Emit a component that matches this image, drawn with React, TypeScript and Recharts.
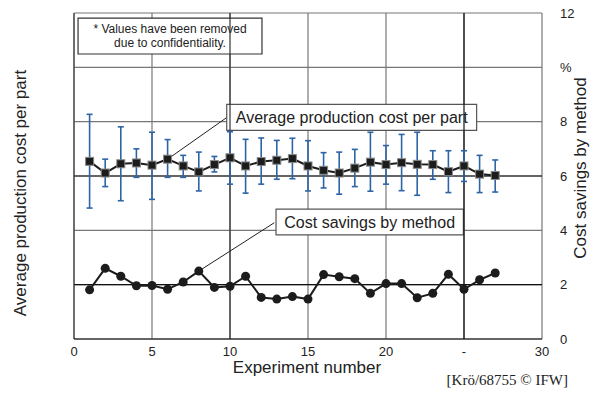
import React from 'react';
import {
  ComposedChart, Line, XAxis, YAxis, CartesianGrid, ErrorBar,
  ReferenceLine, ReferenceArea,
} from 'recharts';

const experiments = [1, 2, 3, 4, 5, 6, 7, 8, 9, 10, 11, 12, 13, 14, 15, 16, 17, 18, 19, 20, 21, 22, 23, 24, 25, 26, 27];
const avgCost = [6.54, 6.11, 6.45, 6.48, 6.40, 6.62, 6.37, 6.15, 6.42, 6.67, 6.37, 6.53, 6.58, 6.64, 6.37, 6.21, 6.11, 6.29, 6.51, 6.42, 6.49, 6.43, 6.42, 6.16, 6.37, 6.07, 6.02];
const avgHigh = [8.27, 6.62, 7.81, 7.00, 7.61, 7.34, 6.76, 6.88, 6.72, 7.63, 7.35, 7.40, 7.31, 7.39, 7.30, 6.86, 6.88, 6.98, 7.61, 7.12, 7.53, 7.61, 6.93, 6.93, 6.93, 6.76, 6.59];
const avgLow = [4.82, 5.61, 5.09, 5.95, 5.14, 5.95, 5.95, 5.45, 6.15, 5.70, 5.37, 5.70, 5.88, 5.90, 5.45, 5.56, 5.33, 5.61, 5.44, 5.70, 5.46, 5.29, 5.88, 5.39, 5.80, 5.39, 5.41];
const savings = [1.81, 2.60, 2.31, 1.96, 1.97, 1.83, 2.10, 2.50, 1.90, 1.94, 2.31, 1.53, 1.47, 1.56, 1.47, 2.37, 2.29, 2.22, 1.68, 2.04, 2.04, 1.52, 1.68, 2.38, 1.83, 2.18, 2.43];

const xTicks = [0, 5, 10, 15, 20, 25, 30];
const yTicks = [0, 2, 4, 6, 8, 10, 12];

const data = experiments.map((n, i) => ({
  n,
  avg: avgCost[i],
  err: [avgCost[i] - avgLow[i], avgHigh[i] - avgCost[i]],
  sav: savings[i],
}));

const font = 'Liberation Sans, Arial, sans-serif';
const ink = '#222';

const SquareDot = (props: any) => {
  const { cx, cy, index } = props;
  return <rect key={`sq-${index}`} x={cx - 4} y={cy - 4} width={8} height={8} fill="#1c1c1c" stroke="#888" strokeWidth={1} />;
};

const RoundDot = (props: any) => {
  const { cx, cy, index } = props;
  return <circle key={`rd-${index}`} cx={cx} cy={cy} r={4.5} fill="#1c1c1c" />;
};

const boxLabel = (lines: string[], size: number) => (props: any) => {
  const { x, y, width, height } = props.viewBox;
  const cx = x + width / 2;
  const lh = size * 1.15;
  const y0 = y + height / 2 - ((lines.length - 1) * lh) / 2;
  return (
    <text x={cx} y={y0} textAnchor="middle" dominantBaseline="central" fontSize={size} fill={ink} fontFamily={font}>
      {lines.map((l, i) => (
        <tspan key={i} x={cx} y={y0 + i * lh}>{l}</tspan>
      ))}
    </text>
  );
};

export default function App() {
  return (
    <div style={{ position: 'absolute', left: 0, top: 0, width: 590, height: 394, background: '#fff' }}>
      <ComposedChart width={590} height={394} data={data} margin={{ top: 13, right: 0, bottom: 0, left: 0 }}>
        <CartesianGrid stroke="#777" strokeWidth={1.2} yAxisId="right" />
        <XAxis
          dataKey="n" type="number" domain={[0, 30]} ticks={xTicks} height={55}
          axisLine={false} tickLine={false} tickMargin={2}
          tick={{ fontSize: 13, fill: ink, fontFamily: font }}
          tickFormatter={(v: number) => (v === 25 ? '-' : String(v))}
        />
        <YAxis
          yAxisId="left" orientation="left" width={74} domain={[0, 12]} ticks={[10]}
          axisLine={false} tickLine={false} tickMargin={18}
          tick={{ fontSize: 12, fill: ink, fontFamily: font }}
          tickFormatter={() => '€*'}
        />
        <YAxis
          yAxisId="right" orientation="right" width={48} domain={[0, 12]} ticks={yTicks}
          axisLine={false} tickLine={false} tickMargin={12}
          tick={{ fontSize: 13, fill: ink, fontFamily: font, textAnchor: 'start' }}
          tickFormatter={(v: number) => (v === 10 ? '%' : String(v))}
        />
        <ReferenceLine yAxisId="right" y={2} stroke="#111" strokeWidth={1.2} />
        <ReferenceLine yAxisId="right" y={6} stroke="#111" strokeWidth={1.2} />
        <ReferenceLine yAxisId="right" x={10} stroke="#333" strokeWidth={1.2} />
        <ReferenceLine yAxisId="right" x={25} stroke="#111" strokeWidth={1.2} />
        <ReferenceLine yAxisId="right" x={0} stroke="#444" strokeWidth={1.2} />
        <ReferenceLine yAxisId="right" y={0} stroke="#111" strokeWidth={1.2} />

        <Line
          yAxisId="right" dataKey="avg" stroke="#1c1c1c" strokeWidth={2}
          dot={SquareDot} isAnimationActive={false}
        >
          <ErrorBar dataKey="err" direction="y" width={3} stroke="#2d64a6" strokeWidth={1.6} />
        </Line>
        <Line
          yAxisId="right" dataKey="sav" stroke="#1c1c1c" strokeWidth={2}
          dot={RoundDot} isAnimationActive={false}
        />

        <ReferenceLine
          yAxisId="right" stroke="#222" strokeWidth={1}
          segment={[{ x: 6, y: avgCost[5] }, { x: 9.76, y: 8.14 }]}
        />
        <ReferenceLine
          yAxisId="right" stroke="#222" strokeWidth={1}
          segment={[{ x: 8, y: savings[7] }, { x: 12.84, y: 4.28 }]}
        />
        <ReferenceArea
          yAxisId="right" x1={0.26} x2={12.05} y1={10.49} y2={11.81}
          fill="#fff" fillOpacity={1} stroke="#333" strokeWidth={1.2}
          label={boxLabel(['* Values have been removed', 'due to confidentiality.'], 12)}
        />
        <ReferenceArea
          yAxisId="right" x1={9.79} x2={25.81} y1={7.68} y2={8.64}
          fill="#fff" fillOpacity={1} stroke="#555" strokeWidth={1.2}
          label={boxLabel(['Average production cost per part'], 16)}
        />
        <ReferenceArea
          yAxisId="right" x1={12.95} x2={24.96} y1={3.83} y2={4.78}
          fill="#fff" fillOpacity={1} stroke="#555" strokeWidth={1.2}
          label={boxLabel(['Cost savings by method'], 16)}
        />
      </ComposedChart>
      <svg width={590} height={394} style={{ position: 'absolute', left: 0, top: 0, pointerEvents: 'none' }}>
        <text x={20} y={193} transform="rotate(-90 20 193)" textAnchor="middle" dominantBaseline="central"
          fontSize={17} fill={ink} fontFamily={font}>Average production cost per part</text>
        <text x={580} y={168} transform="rotate(-90 580 168)" textAnchor="middle" dominantBaseline="central"
          fontSize={17} fill={ink} fontFamily={font}>Cost savings by method</text>
        <text x={307} y={373} textAnchor="middle" fontSize={17} fill={ink} fontFamily={font}>Experiment number</text>
        <text x={568} y={385} textAnchor="end" fontSize={15} fill={ink}
          fontFamily="Liberation Serif, Times New Roman, serif">[Krö/68755 © IFW]</text>
      </svg>
    </div>
  );
}
